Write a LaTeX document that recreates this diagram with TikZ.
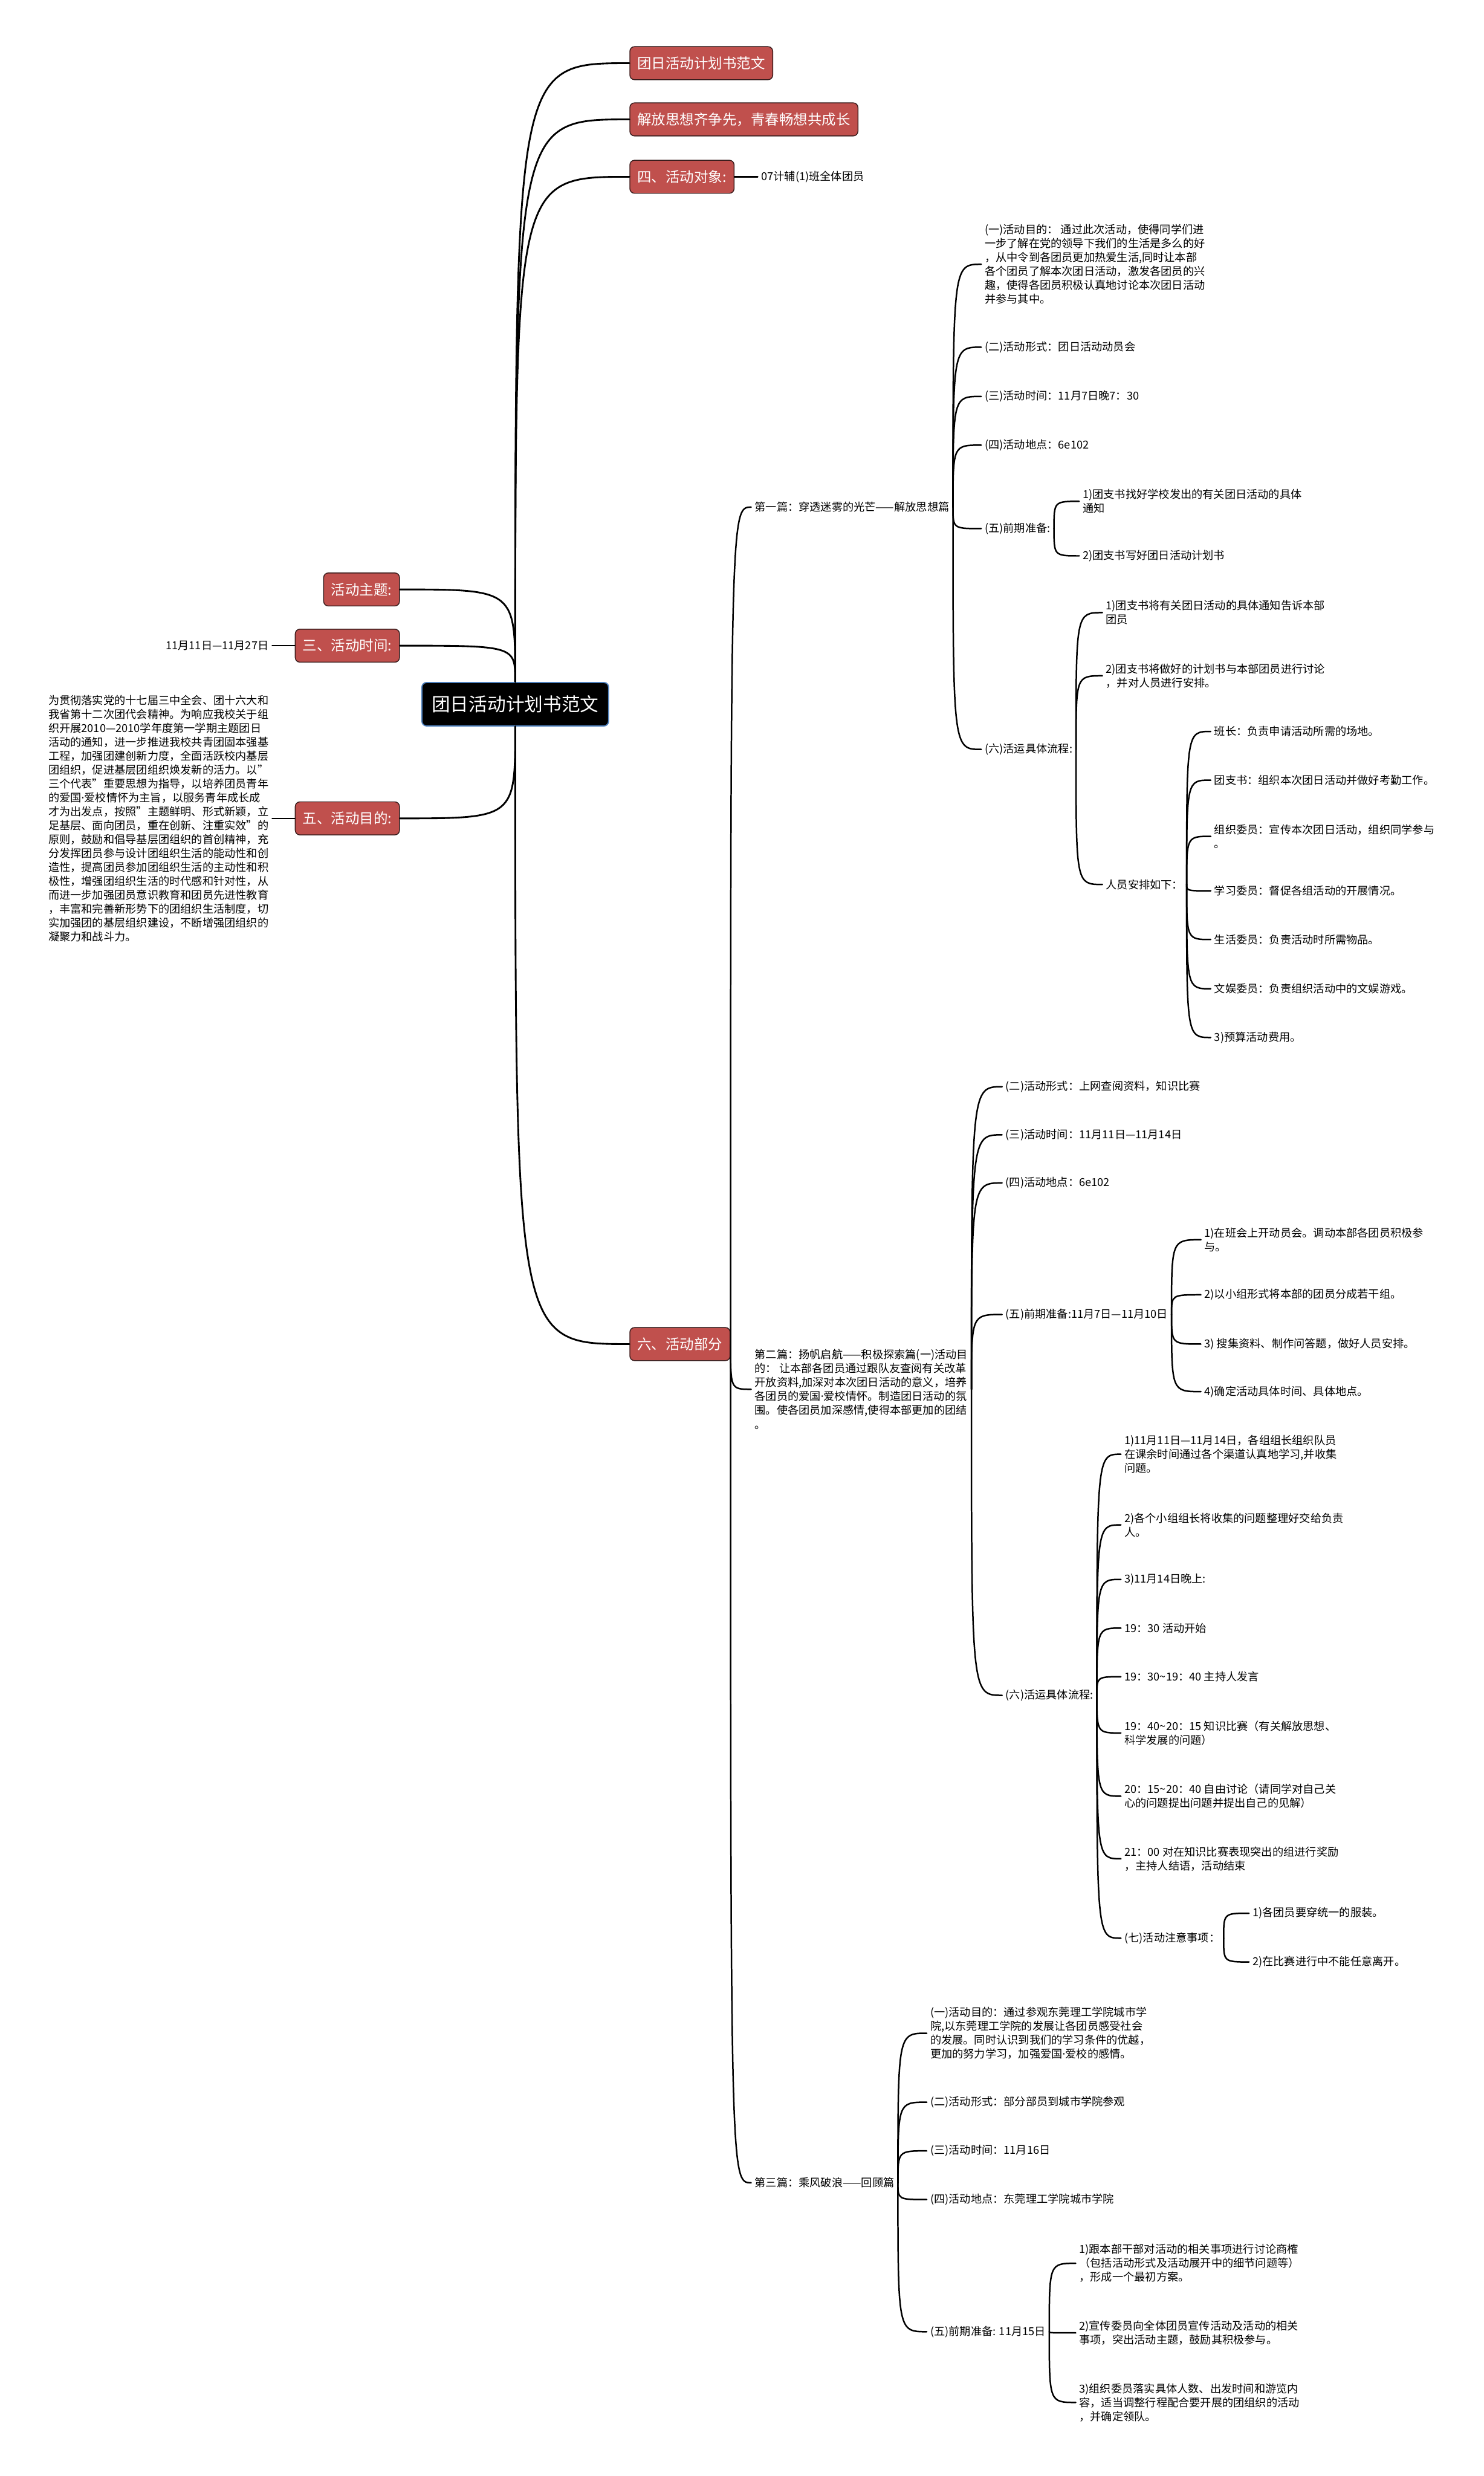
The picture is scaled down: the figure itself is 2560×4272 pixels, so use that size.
\documentclass[tikz,border=0pt]{standalone}
\usepackage{fontspec}
\setmainfont{Noto Sans CJK SC}
\newfontfamily\latinfont{Noto Sans}
\newcommand{\sepdot}{{\latinfont ·}}
\usepackage{tikz}
\usetikzlibrary{positioning}
\definecolor{topicred}{HTML}{C0504D}
\definecolor{topicedge}{HTML}{3A1C1C}
\definecolor{rootedge}{HTML}{4F81BD}
\tikzset{%
  topic/.style={draw=topicedge,fill=topicred,text=white,rounded corners=8pt,line width=1.5pt,minimum height=57pt,inner xsep=13pt,font=\fontsize{24.5}{28}\selectfont},
  leaf/.style={anchor=west,align=left,inner sep=6pt,font=\fontsize{19}{24}\selectfont},
  link/.style={line width=2.6pt,line cap=round}%
}

\begin{document}
\begin{tikzpicture}[
    x=1pt, y=-1pt,
    root/.style={
        draw=rootedge,
        fill=black,
        text=white,
        rounded corners=8pt,
        line width=2pt,
        minimum height=75pt,
        inner xsep=17pt,
        font=\fontsize{32}{36}\selectfont
    },
    trunk/.style={line width=3pt, line cap=round}
]
\path[use as bounding box, fill=white] (0,0) rectangle (2560,4272);

% Centre and main topics
\node[root] (root) at (889,1215) {团日活动计划书范文};

\node[topic, anchor=west] (title) at (1086,109) {团日活动计划书范文};
\node[topic, anchor=west] (slogan) at (1086,206) {解放思想齐争先，青春畅想共成长};
\node[topic, anchor=west] (target) at (1086,305) {四、活动对象:};
\node[leaf, right=40pt of target] (targetv) {07计辅(1)班全体团员};
\node[topic, anchor=west] (part) at (1086,2319) {六、活动部分};

\node[topic, anchor=east] (theme) at (690,1017) {活动主题:};
\node[topic, anchor=east] (timeh) at (690,1114) {三、活动时间:};
\node[leaf, left=39pt of timeh] (timev) {11月11日—11月27日};
\node[topic, anchor=east] (aim) at (690,1412) {五、活动目的:};
\node[leaf, left=39pt of aim] (aimtext)
{为贯彻落实党的十七届三中全会、团十六大和\\
我省第十二次团代会精神。为响应我校关于组\\
织开展2010—2010学年度第一学期主题团日\\
活动的通知，进一步推进我校共青团固本强基\\
工程，加强团建创新力度，全面活跃校内基层\\
团组织，促进基层团组织焕发新的活力。以"\\
三个代表"重要思想为指导，以培养团员青年\\
的爱国\sepdot 爱校情怀为主旨，以服务青年成长成\\
才为出发点，按照"主题鲜明、形式新颖，立\\
足基层、面向团员，重在创新、注重实效"的\\
原则，鼓励和倡导基层团组织的首创精神，充\\
分发挥团员参与设计团组织生活的能动性和创\\
造性，提高团员参加团组织生活的主动性和积\\
极性，增强团组织生活的时代感和针对性，从\\
而进一步加强团员意识教育和团员先进性教育\\
，丰富和完善新形势下的团组织生活制度，切\\
实加强团的基层组织建设，不断增强团组织的\\
凝聚力和战斗力。};

% First part
\node[leaf] (p1) at (1296,875) {第一篇：穿透迷雾的光芒——解放思想篇};
\node[leaf] (p1a) at (1693,456)
{(一)活动目的： 通过此次活动，使得同学们进\\
一步了解在党的领导下我们的生活是多么的好\\
，从中令到各团员更加热爱生活,同时让本部\\
各个团员了解本次团日活动，激发各团员的兴\\
趣，使得各团员积极认真地讨论本次团日活动\\
并参与其中。};
\node[leaf] (p1b) at (1693,599) {(二)活动形式：团日活动动员会};
\node[leaf] (p1c) at (1693,684) {(三)活动时间：11月7日晚7：30};
\node[leaf] (p1d) at (1693,768) {(四)活动地点：6e102};
\node[leaf] (p1e) at (1693,912) {(五)前期准备:};
\node[leaf] (p1e1) at (1862,865) {1)团支书找好学校发出的有关团日活动的具体\\通知};
\node[leaf] (p1e2) at (1862,959) {2)团支书写好团日活动计划书};
\node[leaf] (p1f) at (1693,1293) {(六)活运具体流程:};
\node[leaf] (p1f1) at (1902,1057) {1)团支书将有关团日活动的具体通知告诉本部\\团员};
\node[leaf] (p1f2) at (1902,1166) {2)团支书将做好的计划书与本部团员进行讨论\\，并对人员进行安排。};
\node[leaf] (p1f3) at (1902,1526) {人员安排如下：};
\node[leaf] (staff1) at (2089,1262) {班长：负责申请活动所需的场地。};
\node[leaf] (staff2) at (2089,1346) {团支书：组织本次团日活动并做好考勤工作。};
\node[leaf] (staff3) at (2089,1443) {组织委员：宣传本次团日活动，组织同学参与\\。};
\node[leaf] (staff4) at (2089,1537) {学习委员：督促各组活动的开展情况。};
\node[leaf] (staff5) at (2089,1621) {生活委员：负责活动时所需物品。};
\node[leaf] (staff6) at (2089,1706) {文娱委员：负责组织活动中的文娱游戏。};
\node[leaf] (staff7) at (2089,1790) {3)预算活动费用。};

% Second part
\node[leaf] (p2) at (1296,2397)
{第二篇：扬帆启航——积极探索篇(一)活动目\\
的： 让本部各团员通过跟队友查阅有关改革\\
开放资料,加深对本次团日活动的意义，培养\\
各团员的爱国\sepdot 爱校情怀。制造团日活动的氛\\
围。使各团员加深感情,使得本部更加的团结\\
。};
\node[leaf] (p2b) at (1729,1875) {(二)活动形式：上网查阅资料，知识比赛};
\node[leaf] (p2c) at (1729,1958) {(三)活动时间：11月11日—11月14日};
\node[leaf] (p2d) at (1729,2041) {(四)活动地点：6e102};
\node[leaf] (p2e) at (1729,2268) {(五)前期准备:11月7日—11月10日};
\node[leaf] (p2e1) at (2072,2139) {1)在班会上开动员会。调动本部各团员积极参\\与。};
\node[leaf] (p2e2) at (2072,2234) {2)以小组形式将本部的团员分成若干组。};
\node[leaf] (p2e3) at (2072,2319) {3) 搜集资料、制作问答题，做好人员安排。};
\node[leaf] (p2e4) at (2072,2401) {4)确定活动具体时间、具体地点。};
\node[leaf] (p2f) at (1729,2925) {(六)活运具体流程:};
\node[leaf] (p2f1) at (1934,2509) {1)11月11日—11月14日，各组组长组织队员\\在课余时间通过各个渠道认真地学习,并收集\\问题。};
\node[leaf] (p2f2) at (1934,2631) {2)各个小组组长将收集的问题整理好交给负责\\人。};
\node[leaf] (p2f3) at (1934,2725) {3)11月14日晚上:};
\node[leaf] (p2f4) at (1934,2809) {19：30 活动开始};
\node[leaf] (p2f5) at (1934,2893) {19：30\textasciitilde19：40 主持人发言};
\node[leaf] (p2f6) at (1934,2990) {19：40\textasciitilde20：15 知识比赛（有关解放思想、\\科学发展的问题）};
\node[leaf] (p2f7) at (1934,3099) {20：15\textasciitilde20：40 自由讨论（请同学对自己关\\心的问题提出问题并提出自己的见解）};
\node[leaf] (p2f8) at (1934,3207) {21：00 对在知识比赛表现突出的组进行奖励\\，主持人结语，活动结束};
\node[leaf] (p2g) at (1934,3344) {(七)活动注意事项：};
\node[leaf] (p2g1) at (2155,3301) {1)各团员要穿统一的服装。};
\node[leaf] (p2g2) at (2155,3385) {2)在比赛进行中不能任意离开。};

% Third part
\node[leaf] (p3) at (1296,3766) {第三篇：乘风破浪——回顾篇};
\node[leaf] (p3a) at (1599,3508)
{(一)活动目的：通过参观东莞理工学院城市学\\
院,以东莞理工学院的发展让各团员感受社会\\
的发展。同时认识到我们的学习条件的优越，\\
更加的努力学习，加强爱国\sepdot 爱校的感情。};
\node[leaf] (p3b) at (1599,3627) {(二)活动形式：部分部员到城市学院参观};
\node[leaf] (p3c) at (1599,3711) {(三)活动时间：11月16日};
\node[leaf] (p3d) at (1599,3795) {(四)活动地点：东莞理工学院城市学院};
\node[leaf] (p3e) at (1599,4023) {(五)前期准备: 11月15日};
\node[leaf] (p3e1) at (1856,3905) {1)跟本部干部对活动的相关事项进行讨论商榷\\（包括活动形式及活动展开中的细节问题等）\\，形成一个最初方案。};
\node[leaf] (p3e2) at (1856,4025) {2)宣传委员向全体团员宣传活动及活动的相关\\事项，突出活动主题，鼓励其积极参与。};
\node[leaf] (p3e3) at (1856,4145) {3)组织委员落实具体人数、出发时间和游览内\\容，适当调整行程配合要开展的团组织的活动\\，并确定领队。};

% Connectors from the centre
\draw[trunk] (root.north) .. controls (root.north |- title.west) .. (title.west);
\draw[trunk] (root.north) .. controls (root.north |- slogan.west) .. (slogan.west);
\draw[trunk] (root.north) .. controls (root.north |- target.west) .. (target.west);
\draw[trunk] (root.north) .. controls (root.north |- theme.east) .. (theme.east);
\draw[trunk] (root.north) .. controls (root.north |- timeh.east) .. (timeh.east);
\draw[trunk] (root.south) .. controls (root.south |- aim.east) .. (aim.east);
\draw[trunk] (root.south) .. controls (root.south |- part.west) .. (part.west);
\draw[link] (target) -- (targetv);
\draw[link] (timeh) -- (timev);
\draw[link] (aim) -- (aimtext);

% Parts
\draw[link] (part.east) .. controls (part.east |- p1.west) .. (p1.west);
\draw[link] (part.east) .. controls (part.east |- p2.west) .. (p2.west);
\draw[link] (part.east) .. controls (part.east |- p3.west) .. (p3.west);

\draw[link] (p1.east) .. controls (p1.east |- p1a.west) .. (p1a.west);
\draw[link] (p1.east) .. controls (p1.east |- p1b.west) .. (p1b.west);
\draw[link] (p1.east) .. controls (p1.east |- p1c.west) .. (p1c.west);
\draw[link] (p1.east) .. controls (p1.east |- p1d.west) .. (p1d.west);
\draw[link] (p1.east) .. controls (p1.east |- p1e.west) .. (p1e.west);
\draw[link] (p1.east) .. controls (p1.east |- p1f.west) .. (p1f.west);
\draw[link] (p1e.east) .. controls (p1e.east |- p1e1.west) .. (p1e1.west);
\draw[link] (p1e.east) .. controls (p1e.east |- p1e2.west) .. (p1e2.west);
\draw[link] (p1f.east) .. controls (p1f.east |- p1f1.west) .. (p1f1.west);
\draw[link] (p1f.east) .. controls (p1f.east |- p1f2.west) .. (p1f2.west);
\draw[link] (p1f.east) .. controls (p1f.east |- p1f3.west) .. (p1f3.west);
\draw[link] (p1f3.east) .. controls (p1f3.east |- staff1.west) .. (staff1.west);
\draw[link] (p1f3.east) .. controls (p1f3.east |- staff2.west) .. (staff2.west);
\draw[link] (p1f3.east) .. controls (p1f3.east |- staff3.west) .. (staff3.west);
\draw[link] (p1f3.east) .. controls (p1f3.east |- staff4.west) .. (staff4.west);
\draw[link] (p1f3.east) .. controls (p1f3.east |- staff5.west) .. (staff5.west);
\draw[link] (p1f3.east) .. controls (p1f3.east |- staff6.west) .. (staff6.west);
\draw[link] (p1f3.east) .. controls (p1f3.east |- staff7.west) .. (staff7.west);

\draw[link] (p2.east) .. controls (p2.east |- p2b.west) .. (p2b.west);
\draw[link] (p2.east) .. controls (p2.east |- p2c.west) .. (p2c.west);
\draw[link] (p2.east) .. controls (p2.east |- p2d.west) .. (p2d.west);
\draw[link] (p2.east) .. controls (p2.east |- p2e.west) .. (p2e.west);
\draw[link] (p2.east) .. controls (p2.east |- p2f.west) .. (p2f.west);
\draw[link] (p2e.east) .. controls (p2e.east |- p2e1.west) .. (p2e1.west);
\draw[link] (p2e.east) .. controls (p2e.east |- p2e2.west) .. (p2e2.west);
\draw[link] (p2e.east) .. controls (p2e.east |- p2e3.west) .. (p2e3.west);
\draw[link] (p2e.east) .. controls (p2e.east |- p2e4.west) .. (p2e4.west);
\draw[link] (p2f.east) .. controls (p2f.east |- p2f1.west) .. (p2f1.west);
\draw[link] (p2f.east) .. controls (p2f.east |- p2f2.west) .. (p2f2.west);
\draw[link] (p2f.east) .. controls (p2f.east |- p2f3.west) .. (p2f3.west);
\draw[link] (p2f.east) .. controls (p2f.east |- p2f4.west) .. (p2f4.west);
\draw[link] (p2f.east) .. controls (p2f.east |- p2f5.west) .. (p2f5.west);
\draw[link] (p2f.east) .. controls (p2f.east |- p2f6.west) .. (p2f6.west);
\draw[link] (p2f.east) .. controls (p2f.east |- p2f7.west) .. (p2f7.west);
\draw[link] (p2f.east) .. controls (p2f.east |- p2f8.west) .. (p2f8.west);
\draw[link] (p2f.east) .. controls (p2f.east |- p2g.west) .. (p2g.west);
\draw[link] (p2g.east) .. controls (p2g.east |- p2g1.west) .. (p2g1.west);
\draw[link] (p2g.east) .. controls (p2g.east |- p2g2.west) .. (p2g2.west);

\draw[link] (p3.east) .. controls (p3.east |- p3a.west) .. (p3a.west);
\draw[link] (p3.east) .. controls (p3.east |- p3b.west) .. (p3b.west);
\draw[link] (p3.east) .. controls (p3.east |- p3c.west) .. (p3c.west);
\draw[link] (p3.east) .. controls (p3.east |- p3d.west) .. (p3d.west);
\draw[link] (p3.east) .. controls (p3.east |- p3e.west) .. (p3e.west);
\draw[link] (p3e.east) .. controls (p3e.east |- p3e1.west) .. (p3e1.west);
\draw[link] (p3e.east) .. controls (p3e.east |- p3e2.west) .. (p3e2.west);
\draw[link] (p3e.east) .. controls (p3e.east |- p3e3.west) .. (p3e3.west);

\end{tikzpicture}
\end{document}
